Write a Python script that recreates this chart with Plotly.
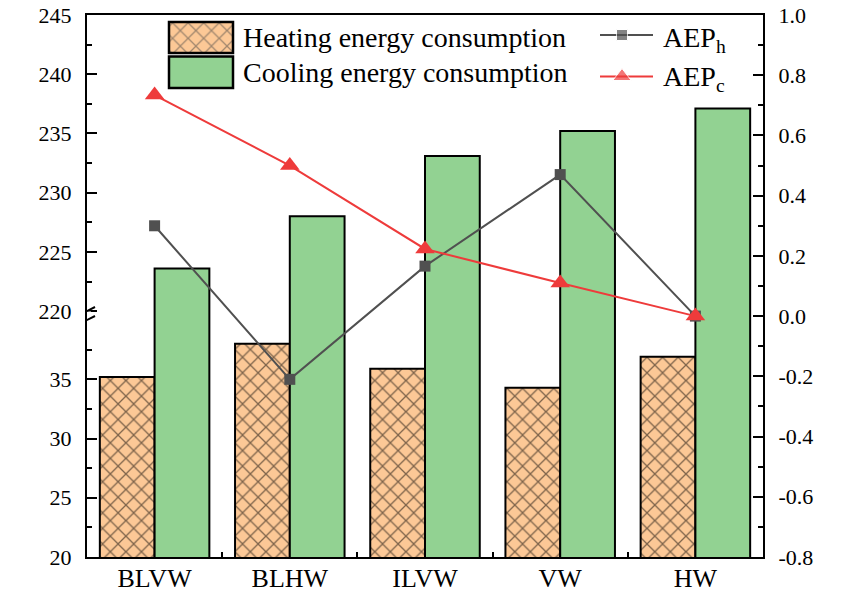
import plotly.graph_objects as go

# ---- data -------------------------------------------------------------
categories = ["BLVW", "BLHW", "ILVW", "VW", "HW"]
heating = [35.2, 38.0, 35.9, 34.3, 36.9]          # kW·h
cooling = [223.6, 228.0, 233.1, 235.2, 237.1]     # kW·h
aep_h = [0.30, -0.21, 0.166, 0.47, 0.0]
aep_c = [0.734, 0.50, 0.223, 0.11, 0.0]

lower_ticks = [20, 25, 30, 35]
upper_ticks = [220, 225, 230, 235, 240, 245]
lower_minor = [22.5, 27.5, 32.5, 37.5]
upper_minor = [222.5, 227.5, 232.5, 237.5, 242.5]
aep_ticks = [-0.8, -0.6, -0.4, -0.2, 0.0, 0.2, 0.4, 0.6, 0.8, 1.0]
aep_minor = [-0.7, -0.5, -0.3, -0.1, 0.1, 0.3, 0.5, 0.7, 0.9]

# ---- broken left axis: 20-40 below the break, 220-245 above it ---------
LOW_TOP = 40.0
HIGH_BOTTOM = 220.0
GAP = 0.76  # blank band between the two segments, in axis units


def to_axis(v):
    """Map a consumption value onto the continuous broken-axis scale."""
    if v <= LOW_TOP:
        return v
    return v - HIGH_BOTTOM + LOW_TOP + GAP


Y_MIN = lower_ticks[0]
Y_MAX = to_axis(upper_ticks[-1])

FONT = "Liberation Serif, Times New Roman, serif"
PEACH = "#FCC896"
GREEN = "#92D292"
GRAY = "#505050"
RED = "#EE3B3B"

W, H = 845, 598
ML, MR, MT, MB = 87, 82, 15, 41

fig = go.Figure()

hatch = dict(shape="x", fgcolor="black", bgcolor=PEACH, size=11, solidity=0.22)

fig.add_trace(go.Bar(
    x=categories, y=[to_axis(v) for v in heating],
    name="Heating energy consumption",
    customdata=heating, hovertemplate="%{x}: %{customdata} kW·h<extra></extra>",
    marker=dict(color=PEACH, line=dict(color="black", width=2), pattern=hatch),
    showlegend=False,
))
fig.add_trace(go.Bar(
    x=categories, y=[to_axis(v) for v in cooling],
    name="Cooling energy consumption",
    customdata=cooling, hovertemplate="%{x}: %{customdata} kW·h<extra></extra>",
    marker=dict(color=GREEN, line=dict(color="black", width=2)),
    showlegend=False,
))

# white band across the plot marking the axis break (sits above the bars)
fig.add_trace(go.Scatter(
    x=[-0.5, 4.5, 4.5, -0.5, -0.5],
    y=[LOW_TOP, LOW_TOP, LOW_TOP + GAP, LOW_TOP + GAP, LOW_TOP],
    mode="lines", line=dict(width=0), fill="toself", fillcolor="white",
    hoverinfo="skip", showlegend=False,
))

fig.add_trace(go.Scatter(
    x=categories, y=aep_h, yaxis="y2", name="AEP_h",
    mode="lines+markers", line=dict(color=GRAY, width=2),
    marker=dict(symbol="square", size=11, color=GRAY), showlegend=False,
))
fig.add_trace(go.Scatter(
    x=categories, y=aep_c, yaxis="y2", name="AEP_c",
    mode="lines+markers", line=dict(color=RED, width=2),
    marker=dict(symbol="triangle-up", size=17, color=RED), showlegend=False,
))

# ---- legend keys, drawn on a pixel-scaled helper axis pair -------------
fig.add_trace(go.Bar(
    x=[201, 201], y=[31, 31.5], base=[22, 56.5], width=[64, 64],
    xaxis="x3", yaxis="y3",
    marker=dict(color=[PEACH, GREEN], line=dict(color="black", width=2.5),
                pattern=dict(shape=["x", ""], fgcolor="black",
                             bgcolor=[PEACH, GREEN], size=11, solidity=0.22)),
    hoverinfo="skip", showlegend=False,
))
fig.add_trace(go.Scatter(
    x=[600, 622, 653], y=[35, 35, 35], xaxis="x3", yaxis="y3",
    mode="lines+markers", line=dict(color=GRAY, width=2),
    marker=dict(symbol="square", size=[0, 11, 0], color=GRAY),
    hoverinfo="skip", showlegend=False,
))
fig.add_trace(go.Scatter(
    x=[600, 622, 653], y=[76.5, 76.5, 76.5], xaxis="x3", yaxis="y3",
    mode="lines+markers", line=dict(color=RED, width=2),
    marker=dict(symbol="triangle-up", size=[0, 16, 0], color=RED),
    hoverinfo="skip", showlegend=False,
))

legend_font = dict(family=FONT, size=28, color="black")
annotations = [
    dict(x=241, y=37.5, xref="x3", yref="y3", text="Heating energy consumption",
         showarrow=False, xanchor="left", yanchor="middle", font=legend_font),
    dict(x=241, y=72, xref="x3", yref="y3", text="Cooling energy consumption",
         showarrow=False, xanchor="left", yanchor="middle", font=legend_font),
    dict(x=661, y=39, xref="x3", yref="y3", text="AEP<sub>h</sub>",
         showarrow=False, xanchor="left", yanchor="middle", font=legend_font),
    dict(x=661, y=78, xref="x3", yref="y3", text="AEP<sub>c</sub>",
         showarrow=False, xanchor="left", yanchor="middle", font=legend_font),
    # axis titles
    dict(x=21, y=290, xref="x3", yref="y3",
         text="Heating/Cooling energy consumption(kW·h)", textangle=-90,
         showarrow=False, xanchor="center", yanchor="middle",
         font=dict(family=FONT, size=27, color="black")),
    dict(x=833, y=287, xref="x3", yref="y3", text="AEP", textangle=-90,
         showarrow=False, xanchor="center", yanchor="middle",
         font=dict(family=FONT, size=28, color="black")),
]

# break marks on the left axis line
shapes = [
    dict(type="rect", xref="x3", yref="y3", x0=83, x1=91, y0=311.5, y1=319.5,
         fillcolor="white", line=dict(width=0), layer="above"),
    dict(type="line", xref="x3", yref="y3", x0=79, y0=315, x1=95, y1=307,
         line=dict(color="black", width=2), layer="above"),
    dict(type="line", xref="x3", yref="y3", x0=79, y0=324, x1=95, y1=316,
         line=dict(color="black", width=2), layer="above"),
]

tick_font = dict(family=FONT, size=22, color="black")

left_vals = [to_axis(v) for v in lower_ticks + upper_ticks]
left_text = [str(v) for v in lower_ticks + upper_ticks]
left_minor = [to_axis(v) for v in lower_minor + upper_minor]

fig.update_layout(
    width=W, height=H,
    margin=dict(l=ML, r=MR, t=MT, b=MB, autoexpand=False),
    paper_bgcolor="white", plot_bgcolor="rgba(0,0,0,0)",
    barmode="group", bargap=0.19, bargroupgap=0,
    font=dict(family=FONT, color="black"),
    xaxis=dict(
        type="category", range=[-0.5, 4.5], tickson="boundaries",
        ticks="inside", ticklen=5, tickwidth=1.5, tickcolor="black",
        showline=True, linecolor="black", linewidth=2, mirror=True,
        showgrid=False, zeroline=False, automargin=False,
        tickfont=dict(family=FONT, size=26, color="black"),
        ticklabelstandoff=-3,
    ),
    yaxis=dict(
        range=[Y_MIN, Y_MAX], tickmode="array", tickvals=left_vals, ticktext=left_text,
        ticks="inside", ticklen=10, tickwidth=2, tickcolor="black",
        minor=dict(tickvals=left_minor, ticks="inside", ticklen=5,
                   tickwidth=1.5, tickcolor="black"),
        showline=True, linecolor="black", linewidth=2,
        showgrid=False, zeroline=False, tickfont=tick_font, automargin=False,
        ticklabelstandoff=9,
    ),
    yaxis2=dict(
        overlaying="y", side="right", range=[aep_ticks[0], aep_ticks[-1]],
        tickmode="array", tickvals=aep_ticks,
        ticktext=[f"{v:.1f}" for v in aep_ticks],
        ticks="inside", ticklen=10, tickwidth=2, tickcolor="black",
        minor=dict(tickvals=aep_minor, ticks="inside", ticklen=5,
                   tickwidth=1.5, tickcolor="black"),
        showline=True, linecolor="black", linewidth=2,
        showgrid=False, zeroline=False, tickfont=tick_font, automargin=False,
        ticklabelstandoff=9,
    ),
    xaxis3=dict(domain=[0, 1], range=[ML, W - MR], anchor="y3",
                visible=False, fixedrange=True, automargin=False),
    yaxis3=dict(domain=[0, 1], range=[H - MB, MT], anchor="x3",
                visible=False, fixedrange=True, automargin=False),
    annotations=annotations,
    shapes=shapes,
)

fig.write_html("out.html")
